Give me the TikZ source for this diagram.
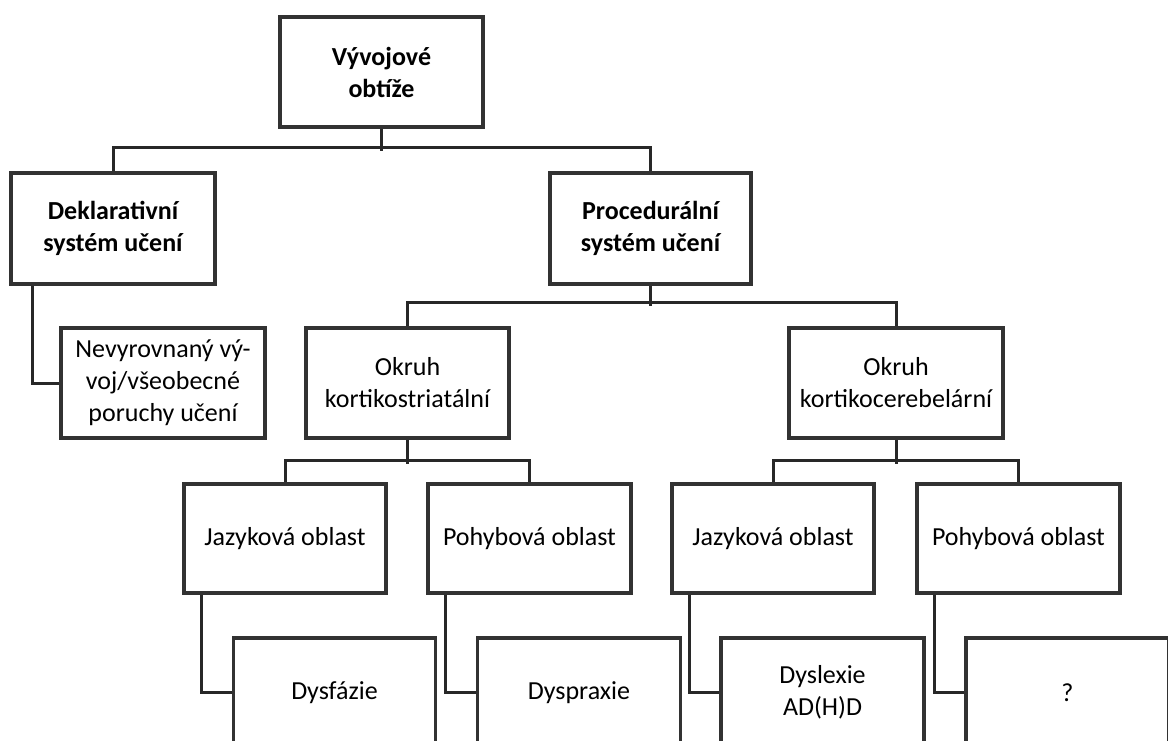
\documentclass[tikz,border=0pt]{standalone}
\usepackage{fontspec}
\setmainfont{Carlito}
\definecolor{boxline}{RGB}{50,50,50}
\definecolor{connline}{RGB}{40,40,40}
\begin{document}
\begin{tikzpicture}[x=1pt,y=-1pt,
  box/.style={draw=boxline, line width=3.5pt, rectangle, align=center,
    font=\fontsize{26}{32}\selectfont, inner sep=0pt, fill=white},
  bbox/.style={box, font=\bfseries\fontsize{26}{32}\selectfont},
  conn/.style={draw=connline, line width=3pt}]
\useasboundingbox (0,0) rectangle (1168,740);
\clip (0,0) rectangle (1168,740);
% level 1
\node[bbox, minimum width=203pt, minimum height=110pt] (top) at (381.5,72) {Vývojové\\obtíže};
% level 2
\node[bbox, minimum width=204pt, minimum height=111pt] (dekl) at (113,228.5) {Deklarativní\\systém učení};
\node[bbox, minimum width=201pt, minimum height=111pt] (proc) at (650.5,228.5) {Procedurální\\systém učení};
% level 3
\node[box, minimum width=204pt, minimum height=110pt] (nev) at (163,383) {Nevyrovnaný vý-\\voj/všeobecné\\poruchy učení};
\node[box, minimum width=203pt, minimum height=110pt] (kst) at (407.5,383) {Okruh\\kortikostriatální};
\node[box, minimum width=214pt, minimum height=110pt] (kcb) at (896,383) {Okruh\\kortikocerebelární};
% level 4
\node[box, minimum width=202pt, minimum height=109pt] (jaz1) at (285,538.5) {Jazyková oblast};
\node[box, minimum width=203pt, minimum height=109pt] (poh1) at (529.5,538.5) {Pohybová oblast};
\node[box, minimum width=202pt, minimum height=109pt] (jaz2) at (773,538.5) {Jazyková oblast};
\node[box, minimum width=203pt, minimum height=109pt] (poh2) at (1018.5,538.5) {Pohybová oblast};
% level 5
\node[box, minimum width=202pt, minimum height=109pt] (dysf) at (334.5,692.5) {Dysfázie};
\node[box, minimum width=203pt, minimum height=109pt] (dyspr) at (579,692.5) {Dyspraxie};
\node[box, minimum width=203pt, minimum height=109pt] (dysl) at (822.5,692.5) {Dyslexie\\AD(H)D};
\node[box, minimum width=203pt, minimum height=109pt] (q) at (1067.5,692.5) {?};
% connectors
\draw[conn] (top.south) -- ++(0,22);
\draw[conn] (dekl.north) -- ++(0,-24) -| (proc.north);
\draw[conn] ([xshift=-81pt]dekl.south) |- (nev.west);
\draw[conn] (proc.south) -- ++(0,20);
\draw[conn] (kst.north) -- ++(0,-24) -| (kcb.north);
\draw[conn] (kst.south) -- ++(0,24);
\draw[conn] (jaz1.north) -- ++(0,-22) -| (poh1.north);
\draw[conn] (kcb.south) -- ++(0,24);
\draw[conn] (jaz2.north) -- ++(0,-22) -| (poh2.north);
\draw[conn] ([xshift=19pt]jaz1.south west) |- (dysf.west);
\draw[conn] ([xshift=19pt]poh1.south west) |- (dyspr.west);
\draw[conn] ([xshift=19pt]jaz2.south west) |- (dysl.west);
\draw[conn] ([xshift=19pt]poh2.south west) |- (q.west);
\end{tikzpicture}
\end{document}
